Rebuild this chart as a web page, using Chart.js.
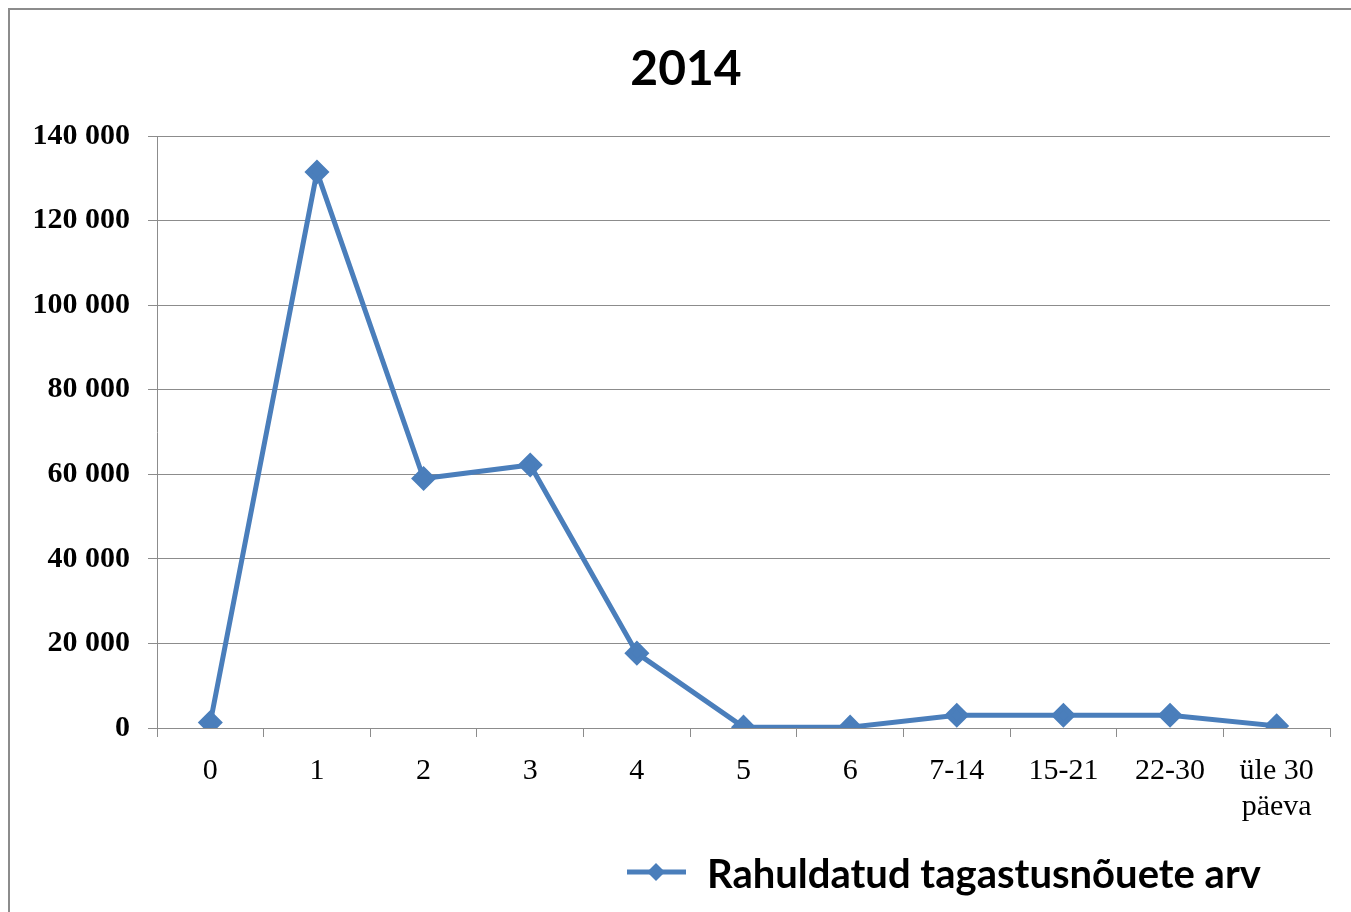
<!DOCTYPE html>
<html>
<head>
<meta charset="utf-8">
<script src="https://cdn.jsdelivr.net/npm/chart.js@4.4.1/dist/chart.umd.min.js"></script>
<style>
  html, body { margin: 0; padding: 0; background: #fff; overflow: hidden; }
  #frame {
    position: absolute; left: 8px; top: 8px; width: 1356px; height: 910px;
    border-left: 2px solid #8c8c8c; border-top: 2px solid #8c8c8c; background: #fff;
  }
  #chartCanvas { display: block; }
</style>
</head>
<body>
<div id="frame"><canvas id="chartCanvas" width="1356" height="910"></canvas></div>
<script>
// andmed
const categories = ["0", "1", "2", "3", "4", "5", "6", "7-14", "15-21", "22-30", ["üle 30", "päeva"]];
const values = [1300, 131500, 59000, 62200, 17700, 200, 200, 3000, 3000, 3000, 500];
const yTicks = [0, 20000, 40000, 60000, 80000, 100000, 120000, 140000];
const chartTitle = "2014";
const seriesName = "Rahuldatud tagastusnõuete arv";

const lineColor = "#4a7ebb";
const gridColor = "#8c8c8c";

function fmt(v) {
  return String(v).replace(/\B(?=(\d{3})+(?!\d))/g, " ");
}

// pealkiri + Excel-stiilis legend (joon + romb + tekst)
const decorPlugin = {
  id: "excelDecor",
  afterDraw(chart) {
    const ctx = chart.ctx;
    ctx.save();
    ctx.fillStyle = "#000";
    ctx.font = "bold 48px Lato";
    ctx.textAlign = "center";
    ctx.textBaseline = "middle";
    ctx.fillText(chartTitle, 676, 60);

    const y = 862;
    ctx.strokeStyle = lineColor;
    ctx.lineWidth = 5;
    ctx.beginPath();
    ctx.moveTo(617, y);
    ctx.lineTo(676, y);
    ctx.stroke();
    ctx.fillStyle = lineColor;
    ctx.beginPath();
    ctx.moveTo(646, y - 9);
    ctx.lineTo(655, y);
    ctx.lineTo(646, y + 9);
    ctx.lineTo(637, y);
    ctx.closePath();
    ctx.fill();
    ctx.fillStyle = "#000";
    ctx.font = "bold 40px Lato";
    ctx.textAlign = "left";
    ctx.fillText(seriesName, 697, y + 3);
    ctx.restore();
  }
};

const ctx = document.getElementById("chartCanvas").getContext("2d");
new Chart(ctx, {
  type: "line",
  data: {
    labels: categories,
    datasets: [{
      label: seriesName,
      data: values,
      borderColor: lineColor,
      backgroundColor: lineColor,
      borderWidth: 5,
      pointStyle: "rectRot",
      pointRadius: 9,
      pointHoverRadius: 9,
      tension: 0
    }]
  },
  options: {
    responsive: false,
    animation: false,
    layout: { padding: { left: 0, right: 36, top: 126, bottom: 0 } },
    plugins: {
      legend: { display: false },
      tooltip: { enabled: false },
      title: { display: false }
    },
    scales: {
      x: {
        offset: true,
        grid: { offset: true, drawOnChartArea: false, drawTicks: true, tickLength: 9, color: gridColor },
        border: { display: true, color: gridColor, width: 1 },
        ticks: {
          color: "#000",
          padding: 16,
          maxRotation: 0,
          autoSkip: false,
          font: { family: "Liberation Serif", size: 30 }
        },
        afterFit(scale) { scale.height = 192; }
      },
      y: {
        min: 0,
        max: 140000,
        afterBuildTicks(scale) { scale.ticks = yTicks.map(v => ({ value: v })); },
        grid: { color: gridColor, lineWidth: 1, tickLength: 9 },
        border: { display: true, color: gridColor, width: 1 },
        ticks: {
          color: "#000",
          padding: 18,
          font: { family: "Liberation Serif", size: 30, weight: "bold" },
          callback: v => fmt(v)
        },
        afterFit(scale) { scale.width = 147; }
      }
    }
  },
  plugins: [decorPlugin]
});
</script>
</body>
</html>
